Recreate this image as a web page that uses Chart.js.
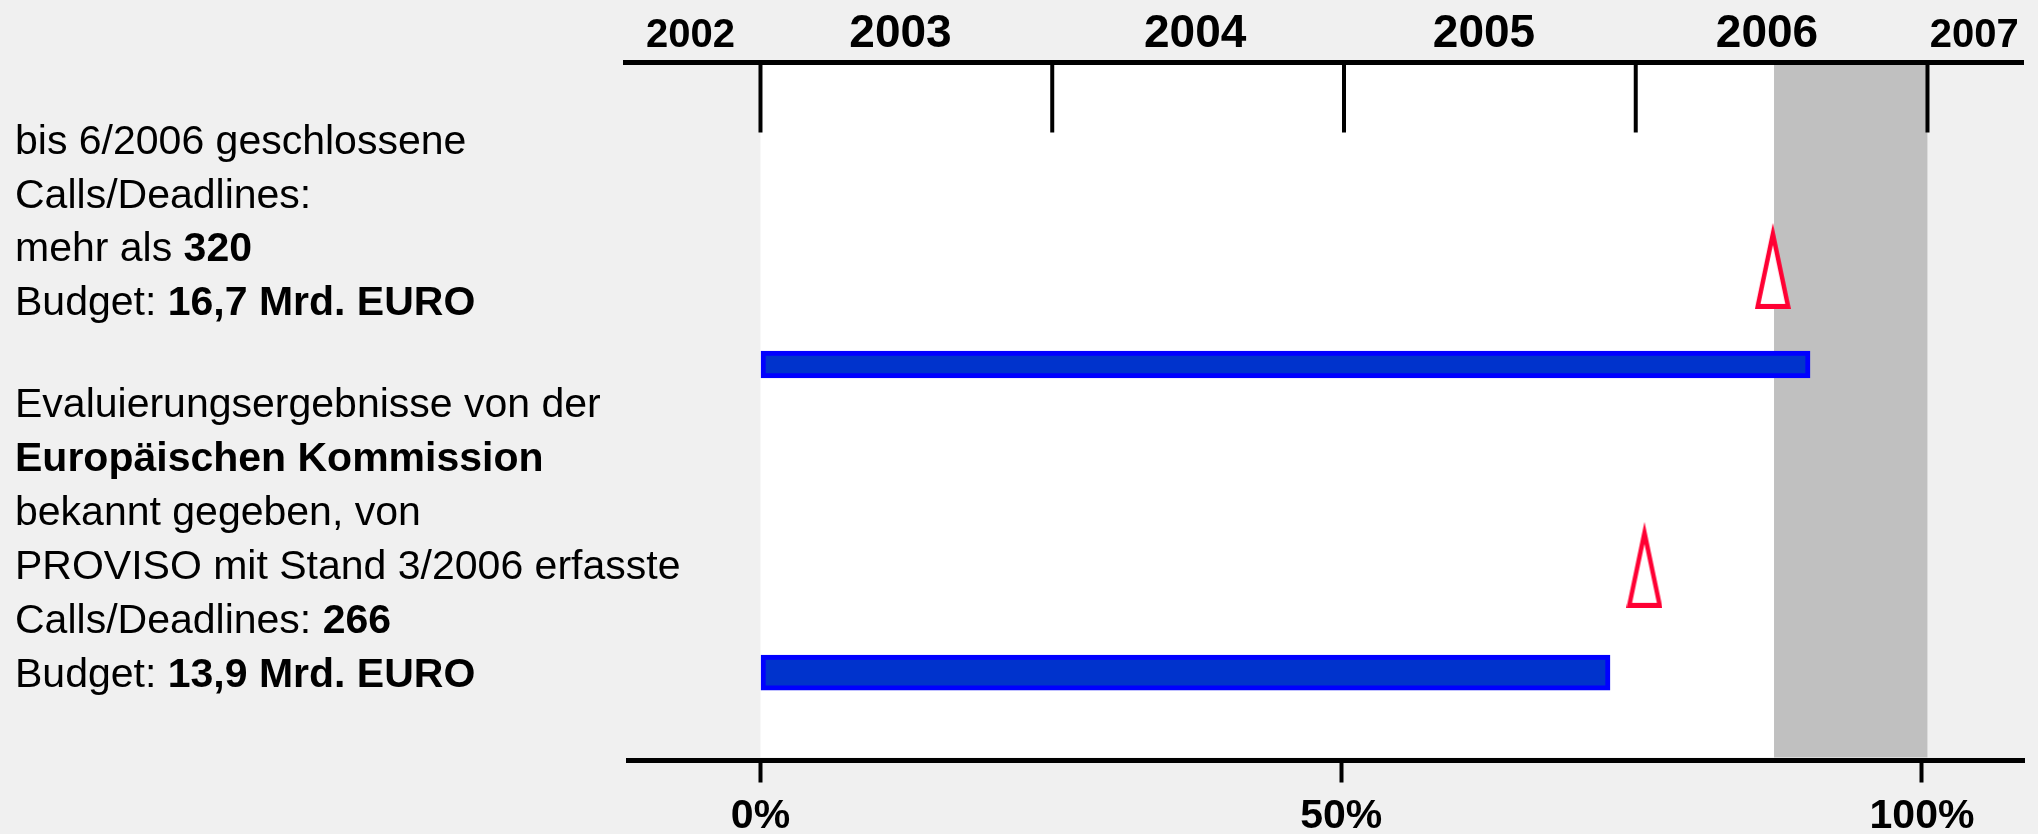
<!DOCTYPE html>
<html>
<head>
<meta charset="utf-8">
<script src="https://cdn.jsdelivr.net/npm/chart.js@4"></script>
<style>
  html, body { margin: 0; padding: 0; background: #f0f0f0; overflow: hidden; }
  #wrap { position: relative; width: 2038px; height: 834px; }
  #chart { position: absolute; left: 0; top: 0; }
  .note { position: absolute; left: 15px; font-family: 'Liberation Sans', Arial, sans-serif; font-size: 41px; color: #000; white-space: nowrap; }
  .note b { font-weight: bold; }
</style>
</head>
<body>
<div id="wrap">
  <canvas id="chart" width="2038" height="834"></canvas>
  <div class="note" style="top:114px; line-height:53.5px">
    bis 6/2006 geschlossene<br>
    Calls/Deadlines:<br>
    mehr als <b>320</b><br>
    Budget: <b>16,7 Mrd. EURO</b>
  </div>
  <div class="note" style="top:376px; line-height:54px">
    Evaluierungsergebnisse von der<br>
    <b>Europäischen Kommission</b><br>
    bekannt gegeben, von<br>
    PROVISO mit Stand 3/2006 erfasste<br>
    Calls/Deadlines: <b>266</b><br>
    Budget: <b>13,9 Mrd. EURO</b>
  </div>
</div>
<script>
// rows on the vertical axis and how far each one got (in %)
const rows = [1, 2];
const reachedPct = [90.36, 73.14];
// red markers: point in time (decimal year) and row position above each bar
const markerYear = [2006.47, 2006.03];
const markerRow = [0.68, 1.65];

const percentTicks = [0, 50, 100];
const yearTicks = [2003, 2004, 2005, 2006, 2007];
const yearLabels = ['2002', '2003', '2004', '2005', '2006', '2007'];
const yearLabelAt = [2002.76, 2003.48, 2004.49, 2005.48, 2006.45, 2007.16];
const runTime = [2003, 2007];
const closedTime = [2006.474, 2007];

const FONT = "'Liberation Sans', Arial, sans-serif";
const BAR_THICKNESS = [27, 35];

Chart.defaults.font.family = FONT;

// tall open triangle used as point style
function makeMarker() {
  const c = document.createElement('canvas');
  c.width = 36;
  c.height = 86;
  const g = c.getContext('2d');
  g.fillStyle = '#ff0033';
  g.beginPath();
  g.moveTo(18, 0); g.lineTo(36, 86); g.lineTo(0, 86);
  g.closePath();
  g.fill();
  g.fillStyle = '#ffffff';
  g.beginPath();
  g.moveTo(18, 22); g.lineTo(30.4, 81); g.lineTo(5.6, 81);
  g.closePath();
  g.fill();
  return c;
}

// white running period with the grey closed part behind everything
const timeBackground = {
  id: 'timeBackground',
  beforeDraw(chart) {
    const { ctx, chartArea: a, scales: { x2 } } = chart;
    ctx.save();
    let l = x2.getPixelForValue(runTime[0]);
    let r = x2.getPixelForValue(runTime[1]);
    ctx.fillStyle = '#ffffff';
    ctx.fillRect(l, a.top, r - l, a.bottom - a.top - 3);
    l = x2.getPixelForValue(closedTime[0]);
    r = x2.getPixelForValue(closedTime[1]);
    ctx.fillStyle = '#c0c0c0';
    ctx.fillRect(l, a.top, r - l, a.bottom - a.top - 3);
    ctx.restore();
  }
};

// year axis on top: thick line, ticks hanging into the plot, labels between ticks
const yearAxis = {
  id: 'yearAxis',
  afterDatasetsDraw(chart) {
    const { ctx, chartArea: a, scales: { x2 } } = chart;
    ctx.save();
    ctx.strokeStyle = '#000';
    ctx.lineWidth = 5;
    ctx.beginPath();
    ctx.moveTo(a.left - 5, a.top);
    ctx.lineTo(a.right, a.top);
    ctx.stroke();
    ctx.lineWidth = 4;
    yearTicks.forEach(v => {
      const px = x2.getPixelForValue(v);
      ctx.beginPath();
      ctx.moveTo(px, a.top);
      ctx.lineTo(px, a.top + 70);
      ctx.stroke();
    });
    ctx.fillStyle = '#000';
    ctx.textAlign = 'center';
    ctx.textBaseline = 'alphabetic';
    yearLabels.forEach((t, i) => {
      const edge = i === 0 || i === yearLabels.length - 1;
      ctx.font = `bold ${edge ? 40 : 46}px ${FONT}`;
      ctx.fillText(t, x2.getPixelForValue(yearLabelAt[i]), 47);
    });
    ctx.restore();
  }
};

const barSets = rows.map((row, i) => ({
  type: 'bar',
  indexAxis: 'y',
  data: [{ x: reachedPct[i], y: row }],
  xAxisID: 'x',
  yAxisID: 'y',
  stack: 'rows',
  barThickness: BAR_THICKNESS[i],
  backgroundColor: '#0033cc',
  borderColor: '#0000ff',
  borderWidth: 5,
  borderSkipped: false
}));

const markerSet = {
  type: 'scatter',
  data: markerYear.map((v, i) => ({ x: v, y: markerRow[i] })),
  xAxisID: 'x2',
  yAxisID: 'y',
  pointStyle: makeMarker(),
  pointRadius: 10,
  showLine: false
};

new Chart(document.getElementById('chart'), {
  type: 'bar',
  data: { datasets: [...barSets, markerSet] },
  options: {
    indexAxis: 'y',
    responsive: false,
    animation: false,
    events: [],
    layout: { padding: { left: 628, right: 14, top: 62.5, bottom: 0 } },
    plugins: { legend: { display: false }, tooltip: { enabled: false } },
    scales: {
      x: {
        type: 'linear',
        position: 'bottom',
        offset: false,
        min: -11.408,
        max: 108.782,
        afterBuildTicks: s => { s.ticks = percentTicks.map(v => ({ value: v })); },
        afterFit: s => { s.height = 73.5; },
        border: { display: true, color: '#000', width: 5 },
        grid: { offset: false, drawOnChartArea: false, drawTicks: true, tickLength: 22, tickWidth: 4, tickColor: '#000', color: '#000' },
        ticks: {
          autoSkip: false,
          maxRotation: 0,
          padding: 10,
          color: '#000',
          font: { size: 41, weight: 'bold' },
          callback: v => v + '%'
        }
      },
      x2: {
        type: 'linear',
        axis: 'x',
        position: 'top',
        display: false,
        offset: false,
        min: 2002.5459,
        max: 2007.3308
      },
      y: {
        type: 'linear',
        reverse: true,
        display: false,
        offset: false,
        grid: { offset: false },
        min: 0.02,
        max: 2.285
      }
    }
  },
  plugins: [timeBackground, yearAxis]
});
</script>
</body>
</html>
